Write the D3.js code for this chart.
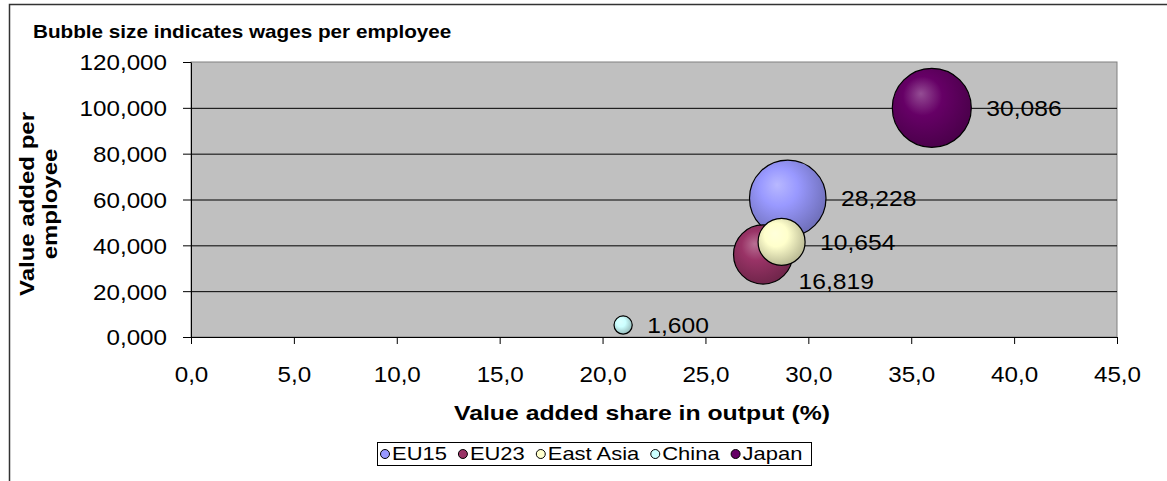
<!DOCTYPE html>
<html>
<head>
<meta charset="utf-8">
<script src="https://cdn.jsdelivr.net/npm/d3@7"></script>
<style>
  body { margin: 0; background: #fff; }
  text { font-family: "Liberation Sans", Arial, sans-serif; fill: #000; }
</style>
</head>
<body>
<div id="bubble-chart"></div>
<script>
// data
const regions = ["EU15", "EU23", "East Asia", "China", "Japan"];
const vaShare = [29.0, 27.8, 28.7, 21.0, 36.0];          // value added share in output (%)
const vaPerEmployee = [60.5, 36.0, 41.5, 5.2, 100.0];    // value added per employee
const wages = [28.228, 16.819, 10.654, 1.600, 30.086];   // wages per employee (bubble size)
const xTicks = [0, 5, 10, 15, 20, 25, 30, 35, 40, 45];
const yTicks = [0, 20, 40, 60, 80, 100, 120];

const colors = ["#9999FF", "#993366", "#FFFFCC", "#CCFFFF", "#660066"];

const width = 1167,
  height = 481,
  margin = {top: 62, right: 50, bottom: 144, left: 191};

const locale = d3.formatLocale({decimal: ",", thousands: ".", grouping: [3], currency: ["", ""]});
const f1 = locale.format(".1f"), f3 = locale.format(".3f");

const svg = d3.select("#bubble-chart")
  .append("svg")
  .attr("width", width)
  .attr("height", height);

// outer chart border (only top and left are in frame)
svg.append("rect")
  .attr("x", 9.5).attr("y", 4.5)
  .attr("width", width + 20).attr("height", height + 20)
  .attr("fill", "none").attr("stroke", "#333").attr("stroke-width", 1.5);

let x = d3.scaleLinear([0, 45], [margin.left, width - margin.right]);
let y = d3.scaleLinear([0, 120], [height - margin.bottom, margin.top]);
let r = d3.scaleSqrt([0, d3.max(wages)], [0, 39.5]);

// plot area
svg.append("rect")
  .attr("x", x(0)).attr("y", y(120))
  .attr("width", x(45) - x(0)).attr("height", y(0) - y(120))
  .attr("fill", "#C0C0C0")
  .attr("stroke", "#808080");

// gridlines
svg.append("g")
  .attr("transform", `translate(${x(0)},0)`)
  .call(d3.axisLeft(y).tickValues(yTicks.filter(d => d > 0 && d < 120)).tickSize(-(x(45) - x(0))).tickFormat(""))
  .call(g => g.select(".domain").remove())
  .call(g => g.selectAll("line").attr("stroke", "#000"));

// axes
svg.append("g")
  .attr("transform", `translate(0,${y(0)})`)
  .call(d3.axisBottom(x).tickValues(xTicks).tickSize(7).tickSizeOuter(0).tickFormat(f1))
  .call(g => g.selectAll("text")
    .attr("y", 0).attr("dy", null)
    .attr("transform", "translate(0,45) scale(1.1,1)")
    .style("font-size", "22px"));

svg.append("g")
  .attr("transform", `translate(${x(0)},0)`)
  .call(d3.axisLeft(y).tickValues(yTicks).tickSize(8).tickSizeOuter(0).tickFormat(d => f3(d)))
  .call(g => g.selectAll("text")
    .attr("x", 0).attr("dy", "0.36em")
    .attr("transform", "translate(-24,0) scale(1.1,1)")
    .style("font-size", "22px"));

svg.selectAll(".domain, .tick line").attr("stroke", "#000");

// shaded bubble fills
const defs = svg.append("defs");
regions.forEach((name, i) => {
  const c = colors[i];
  const grad = defs.append("radialGradient")
    .attr("id", "grad" + i)
    .attr("cx", "42%").attr("cy", "40%").attr("r", "62%")
    .attr("fx", "36%").attr("fy", "32%");
  grad.append("stop").attr("offset", "0%").attr("stop-color", d3.interpolateRgb(c, "#fff")(0.3));
  grad.append("stop").attr("offset", "40%").attr("stop-color", c);
  grad.append("stop").attr("offset", "100%").attr("stop-color", d3.color(c).darker(0.9));
});

const points = regions.map((name, i) => ({name, i, x: vaShare[i], y: vaPerEmployee[i], w: wages[i]}))
  .sort((a, b) => b.w - a.w);

svg.append("g")
  .selectAll("circle")
  .data(points)
  .join("circle")
  .attr("cx", d => x(d.x))
  .attr("cy", d => y(d.y))
  .attr("r", d => r(d.w))
  .attr("fill", d => `url(#grad${d.i})`)
  .attr("stroke", "#000")
  .attr("stroke-width", 1.2);

// data labels (EU23 label was dragged down in the original)
const labelShift = {"EU23": [6, 27]};
svg.append("g")
  .selectAll("text")
  .data(points)
  .join("text")
  .attr("transform", d => {
    const s = labelShift[d.name] || [15, 0];
    return `translate(${x(d.x) + r(d.w) + s[0]},${y(d.y) + s[1]}) scale(1.12,1)`;
  })
  .attr("dy", "0.36em")
  .style("font-size", "22px")
  .text(d => f3(d.w));

// titles
svg.append("text")
  .attr("transform", "translate(33,38) scale(1.15,1)")
  .style("font-size", "18px").style("font-weight", "bold")
  .text("Bubble size indicates wages per employee");

svg.append("text")
  .attr("transform", "translate(642,420) scale(1.24,1)")
  .attr("text-anchor", "middle")
  .style("font-size", "20px").style("font-weight", "bold")
  .text("Value added share in output (%)");

const yLab = svg.append("text")
  .attr("transform", "translate(34,204) rotate(-90) scale(1.2,1)")
  .attr("text-anchor", "middle")
  .style("font-size", "20px").style("font-weight", "bold");
yLab.append("tspan").attr("x", 0).attr("y", 0).text("Value added per");
yLab.append("tspan").attr("x", 0).attr("y", 23).text("employee");

// legend
const legend = svg.append("g");
legend.append("rect")
  .attr("x", 377.5).attr("y", 442.5)
  .attr("width", 434).attr("height", 23)
  .attr("fill", "#fff").attr("stroke", "#000");

let lx = 385;
regions.forEach((name, i) => {
  legend.append("circle")
    .attr("cx", lx).attr("cy", 454)
    .attr("r", 4.5)
    .attr("fill", colors[i]).attr("stroke", "#000");
  const t = legend.append("text")
    .attr("transform", `translate(${lx + 7},454) scale(1.22,1)`)
    .attr("dy", "0.36em")
    .style("font-size", "18px")
    .text(name);
  lx += 7 + t.node().getComputedTextLength() * 1.22 + 16;
});
</script>
</body>
</html>
